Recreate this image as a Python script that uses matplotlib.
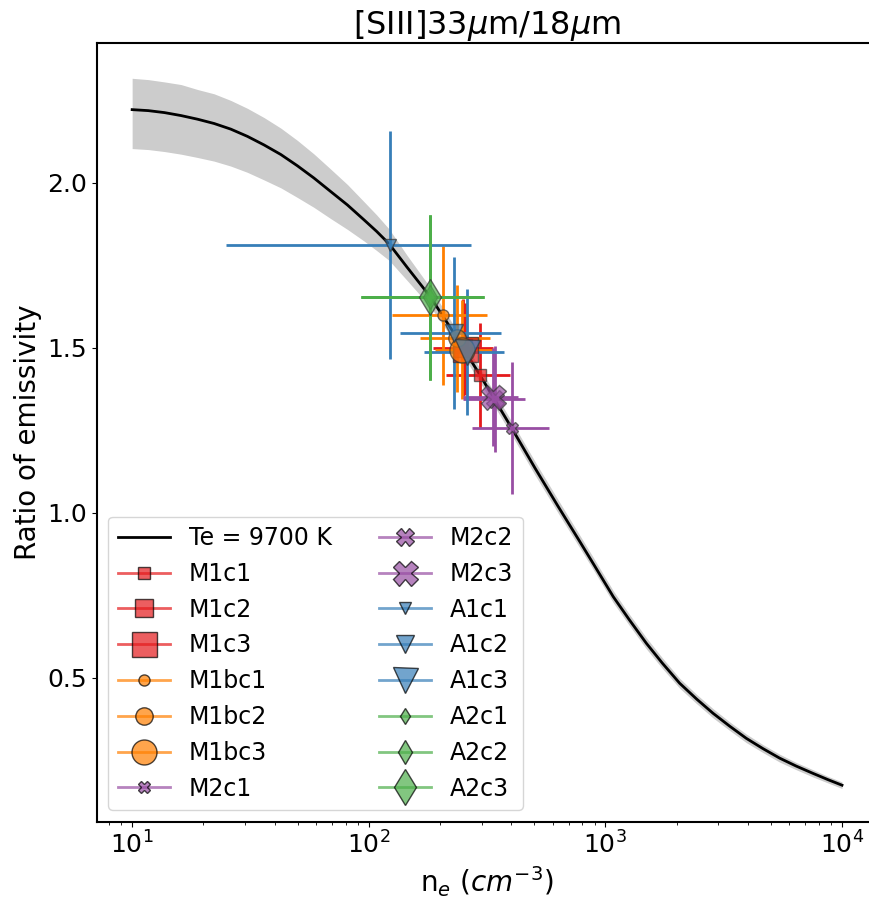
import matplotlib
matplotlib.use('Agg')
import matplotlib.pyplot as plt
from matplotlib.lines import Line2D

# model curve (Te = 9700 K) and its uncertainty band
curve_ne = [10, 11.7, 13.7, 16.1, 18.9, 22.2, 26.1, 30.7, 36.1, 42.5, 49.9, 58.6, 69.0,
            81.3, 95.5, 108, 122, 145, 182, 229, 295, 402, 505, 631, 780, 891, 1080,
            1260, 1490, 1740, 2060, 2430, 2850, 3350, 3940, 4630, 5450, 6400, 7530,
            8710, 10000]
curve_ratio = [2.222, 2.219, 2.213, 2.204, 2.193, 2.180, 2.163, 2.141, 2.115, 2.086,
               2.052, 2.015, 1.974, 1.933, 1.888, 1.853, 1.815, 1.745, 1.655, 1.545,
               1.418, 1.257, 1.135, 1.02, 0.913, 0.845, 0.746, 0.677, 0.605, 0.545,
               0.484, 0.436, 0.393, 0.354, 0.317, 0.286, 0.257, 0.233, 0.211, 0.192,
               0.175]
band_hi = [2.317, 2.313, 2.306, 2.298, 2.283, 2.270, 2.250, 2.226, 2.198, 2.166,
           2.129, 2.088, 2.042, 1.995, 1.943, 1.903, 1.860, 1.781, 1.683, 1.567,
           1.438, 1.277, 1.155, 1.040, 0.932, 0.864, 0.764, 0.694, 0.622, 0.561,
           0.499, 0.450, 0.407, 0.367, 0.330, 0.298, 0.269, 0.244, 0.222, 0.202,
           0.185]
band_lo = [2.104, 2.101, 2.095, 2.087, 2.077, 2.066, 2.051, 2.032, 2.009, 1.985,
           1.956, 1.926, 1.892, 1.859, 1.824, 1.795, 1.765, 1.705, 1.625, 1.521,
           1.396, 1.236, 1.114, 1.000, 0.894, 0.827, 0.728, 0.660, 0.588, 0.529,
           0.469, 0.422, 0.379, 0.341, 0.304, 0.274, 0.245, 0.222, 0.200, 0.182,
           0.165]

# measured regions
names = ['M1c1', 'M1c2', 'M1c3', 'M1bc1', 'M1bc2', 'M1bc3', 'M2c1', 'M2c2', 'M2c3',
         'A1c1', 'A1c2', 'A1c3', 'A2c1', 'A2c2', 'A2c3']
ne = [296, 251, 254, 205, 237, 247, 402, 340, 334, 123, 230, 259, 182, 182, 182]
ne_err_lo = [84, 65, 61, 80, 72, 57, 128, 91, 83, 98, 94, 87, 89, 89, 89]
ne_err_hi = [99, 83, 78, 111, 89, 84, 174, 118, 94, 147, 131, 114, 125, 125, 125]
ratio = [1.417, 1.501, 1.497, 1.599, 1.529, 1.494, 1.257, 1.345, 1.352,
         1.811, 1.545, 1.488, 1.653, 1.653, 1.653]
ratio_err = [0.16, 0.146, 0.14, 0.21, 0.163, 0.15, 0.2, 0.16, 0.148,
             0.346, 0.231, 0.19, 0.251, 0.251, 0.251]

group_color = {'M1': '#e41a1c', 'M1b': '#ff7f00', 'M2': '#984ea3', 'A1': '#377eb8', 'A2': '#4daf4a'}
group_marker = {'M1': 's', 'M1b': 'o', 'M2': 'X', 'A1': 'v', 'A2': 'd'}
sizes = {'1': 8, '2': 12.5, '3': 18}

fig = plt.figure(figsize=(8.7, 8.99), dpi=100)
ax = fig.add_axes([0.1111, 0.0857, 0.8975, 0.8665])

ax.fill_between(curve_ne, band_lo, band_hi, color='gray', alpha=0.4, lw=0)
ax.plot(curve_ne, curve_ratio, color='k', lw=2)

handles = [Line2D([0], [0], color='k', lw=2, label='Te = 9700 K')]
for i, name in enumerate(names):
    grp = name[:-2]
    c = group_color[grp]
    m = group_marker[grp]
    ms = sizes[name[-1]]
    ax.errorbar(ne[i], ratio[i], xerr=[[ne_err_lo[i]], [ne_err_hi[i]]], yerr=ratio_err[i],
                fmt=m, ms=ms, color=c, ecolor=c, elinewidth=2, capsize=0,
                mfc=matplotlib.colors.to_rgba(c, 0.7), mec=(0.2, 0.2, 0.2, 0.7), mew=1)
    handles.append(Line2D([0], [0], color=c, lw=2, alpha=0.7, marker=m, ms=ms,
                          mfc=c, mec='k', mew=1, label=name))

ax.set_xscale('log')
ax.set_xlim(7.08, 14125)
ax.set_ylim(0.0636, 2.424)
ax.set_yticks([0.5, 1.0, 1.5, 2.0])
ax.tick_params(labelsize=18)
ax.set_xlabel(r'n$_e$ ($cm^{-3}$)', fontsize=20)
ax.set_ylabel('Ratio of emissivity', fontsize=20)
ax.set_title(r'[SIII]33$\mu$m/18$\mu$m', fontsize=23)
for sp in ax.spines.values():
    sp.set_linewidth(1.5)
ax.spines['right'].set_visible(False)

ax.legend(handles=handles, loc='lower left', ncol=2, fontsize=17, handlelength=2.2)

fig.savefig('out.png', dpi=100)
